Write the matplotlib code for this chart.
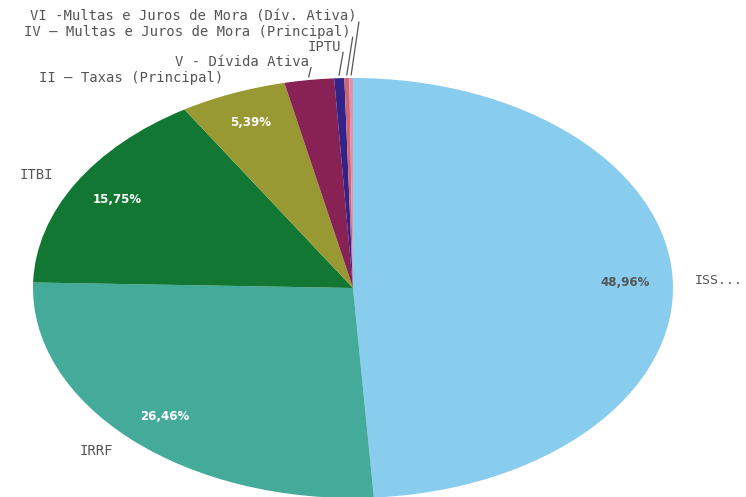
import matplotlib
matplotlib.use("Agg")
import matplotlib.pyplot as plt
import numpy as np

labels = [
    "ISS...",
    "IRRF",
    "ITBI",
    "II – Taxas (Principal)",
    "V - Dívida Ativa",
    "IPTU",
    "IV – Multas e Juros de Mora (Principal)",
    "VI -Multas e Juros de Mora (Dív. Ativa)",
]
values = [48.96, 26.46, 15.75, 5.39, 2.50, 0.51, 0.25, 0.18]
colors = ["#88CCEE", "#44AA99", "#117733", "#999933",
          "#882255", "#332288", "#CC6677", "#E58FAE"]

W, H = 746, 497
fig = plt.figure(figsize=(W / 100, H / 100), dpi=100)
# ellipse box in pixels: x 33..673, y 78..498
ax = fig.add_axes([33 / W, -1 / H, 640 / W, 420 / H])

wedges, _ = ax.pie(values, colors=colors, startangle=90, counterclock=False,
                   radius=1, wedgeprops=dict(linewidth=0))
ax.set_aspect("auto")
ax.set_xlim(-1, 1)
ax.set_ylim(-1, 1)
ax.axis("off")

label_color = "#555555"
label_font = dict(family=["DejaVu Sans Mono"], color=label_color)
step = 0.072  # vertical spacing of stacked labels (axes units)
prev_y = None
for i, (w, lab, v) in enumerate(zip(wedges, labels, values)):
    mid = np.deg2rad((w.theta1 + w.theta2) / 2)
    c, s = np.cos(mid), np.sin(mid)
    # percentage inside the slice
    if v > 5:
        txt = f"{v:.2f}%".replace(".", ",")
        ax.text(0.85 * c, 0.85 * s, txt, ha="center", va="center",
                fontsize=8.5, fontweight="bold", family="DejaVu Sans",
                color="#555555" if i == 0 else "white")
    lx, ly = 1.08 * c, 1.08 * s
    if v < 3:
        if prev_y is not None:
            ly = max(ly, prev_y + step)
        prev_y = ly
        tip_x = c + 0.006 * (i - 3)
        ax.plot([c * 1.01, tip_x], [s * 1.015, ly - 0.02], color="#555555",
                lw=0.9, clip_on=False)
        ax.text(tip_x - 0.006, ly + 0.005, lab, ha="right", va="center",
                fontsize=10, clip_on=False, **label_font)
    elif c > 0:
        ax.text(1.07 * c, ly, lab, ha="left", va="center",
                fontsize=9.5, clip_on=False, **label_font)
    else:
        ax.text(lx, ly, lab, ha="right", va="center",
                fontsize=10, clip_on=False, **label_font)

fig.savefig("out.png", dpi=100)
